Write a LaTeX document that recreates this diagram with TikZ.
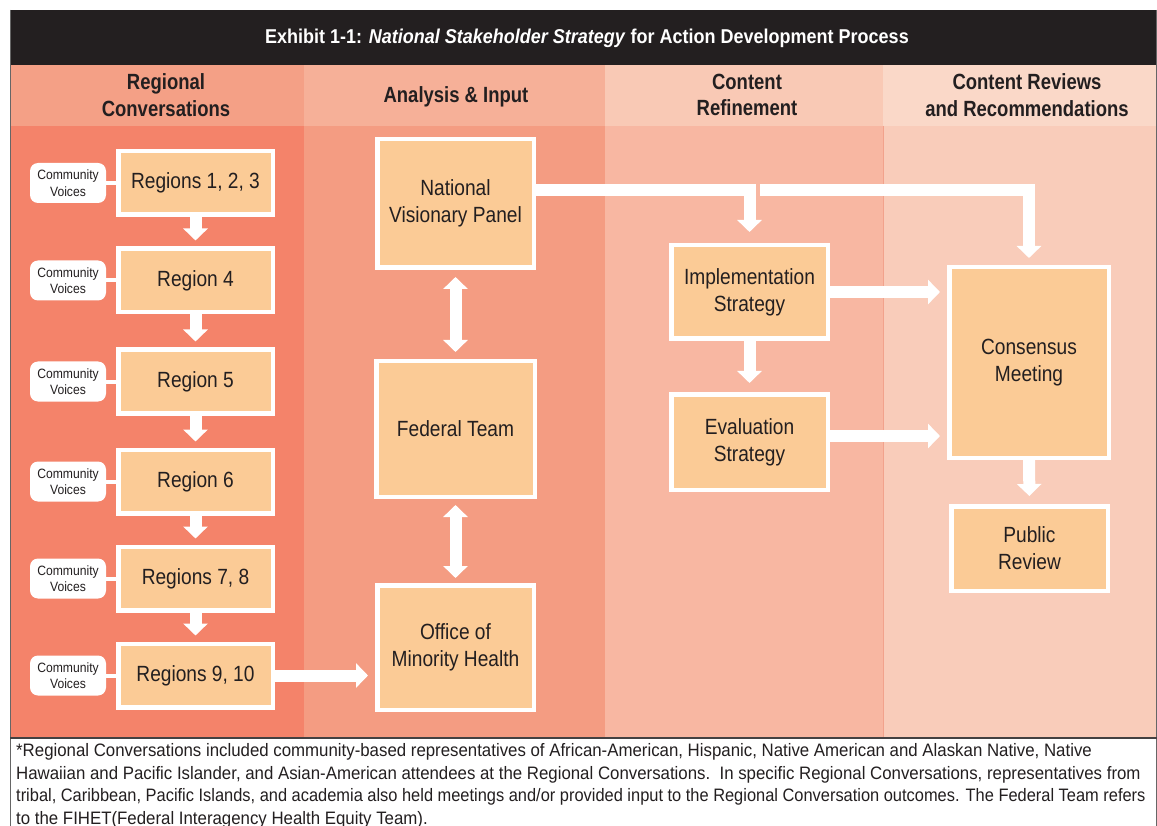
\documentclass[tikz,border=0pt]{standalone}
\usepackage{fontspec}
\setmainfont{Liberation Sans}[FakeStretch=0.82]
\newfontfamily\titlefont{Liberation Sans}[FakeStretch=0.9]
\newfontfamily\hdrfont{Liberation Sans}[FakeStretch=0.84]
\newfontfamily\boxfont{Liberation Sans}[FakeStretch=0.87]
\newfontfamily\cvfont{Liberation Sans}[FakeStretch=0.9]
\newfontfamily\footfont{Liberation Sans}[FakeStretch=0.935]
\newfontfamily\footfonttight{Liberation Sans}[FakeStretch=0.912]
\usetikzlibrary{arrows.meta}
\definecolor{titlebk}{HTML}{231F20}
\definecolor{txt}{HTML}{231F20}
\definecolor{hA}{HTML}{F4A086}
\definecolor{bA}{HTML}{F4836A}
\definecolor{hB}{HTML}{F6B098}
\definecolor{bB}{HTML}{F49C82}
\definecolor{hC}{HTML}{F9C9B5}
\definecolor{bC}{HTML}{F8B7A2}
\definecolor{hD}{HTML}{FAD8C8}
\definecolor{bD}{HTML}{F9CCBA}
\definecolor{boxfill}{HTML}{FBCB96}
\definecolor{sepline}{HTML}{F2A28C}
\tikzset{
  stagebox/.style={draw=white, line width=4.5pt, fill=boxfill, align=center, text=txt,
    inner sep=0pt, font=\boxfont\fontsize{22}{27}\selectfont},
  cvbox/.style={fill=white, rounded corners=8pt, minimum width=76pt, minimum height=40pt,
    align=center, text=txt, inner sep=0pt, font=\cvfont\fontsize{13.5}{16.5}\selectfont},
  hdr/.style={align=center, text=txt, font=\hdrfont\fontsize{22}{26.5}\selectfont\bfseries},
  warrow/.style={draw=white, line width=12pt, -{Triangle[length=12pt,width=24pt]}},
  dblarrow/.style={draw=white, line width=12pt, {Triangle[length=12pt,width=24pt]}-{Triangle[length=12pt,width=24pt]}},
  foot/.style={anchor=west, text=txt, inner sep=0pt, font=\footfont\fontsize{18}{22}\selectfont}
}
\begin{document}
\begin{tikzpicture}[x=1pt,y=-1pt]
\useasboundingbox (0,0) rectangle (1157,826);
\fill[white] (0,0) rectangle (1157,826);
% title bar
\fill[titlebk] (10,10) rectangle (1157,65);
% headers
\fill[hA] (10,65) rectangle (304,126);
\fill[hB] (304,65) rectangle (605,126);
\fill[hC] (605,65) rectangle (883,126);
\fill[hD] (883,65) rectangle (1157,126);
% bodies
\fill[bA] (10,126) rectangle (304,738);
\fill[bB] (304,126) rectangle (605,738);
\fill[bC] (605,126) rectangle (883,738);
\fill[bD] (883,126) rectangle (1157,738);
\draw[sepline, line width=1pt] (883,126) -- (883,738);
% frame
\draw[gray!80!black, line width=1pt] (10.5,10) -- (10.5,826);
\draw[gray!80!black, line width=1pt] (1156.5,10) -- (1156.5,826);
\draw[txt!85, line width=1.5pt] (10,738) -- (1157,738);

\node[text=white, font=\titlefont\fontsize{20}{24}\selectfont\bfseries] (title) at (587,38)
  {Exhibit 1-1: \textit{National Stakeholder Strategy} for Action Development Process};

\node[hdr] (h1) at (166,95) {Regional\\Conversations};
\node[hdr] (h2) at (456,97) {Analysis \& Input};
\node[hdr] (h3) at (747,95) {Content\\Refinement};
\node[hdr] (h4) at (1027,95) {Content Reviews\\and Recommendations};

% regions
\node[stagebox, minimum width=154.5pt, minimum height=63.5pt] (r1) at (195.5,183) {Regions 1, 2, 3};
\node[stagebox, minimum width=154.5pt, minimum height=63.5pt] (r2) at (195.5,280.5) {Region 4};
\node[stagebox, minimum width=154.5pt, minimum height=63.5pt] (r3) at (195.5,381.5) {Region 5};
\node[stagebox, minimum width=154.5pt, minimum height=63.5pt] (r4) at (195.5,481.5) {Region 6};
\node[stagebox, minimum width=154.5pt, minimum height=63.5pt] (r5) at (195.5,578.5) {Regions 7, 8};
\node[stagebox, minimum width=154.5pt, minimum height=63.5pt] (r6) at (195.5,675.5) {Regions 9, 10};

\foreach \i in {1,...,6} {
  \node[cvbox] (cv\i) at (68,0 |- r\i) {Community\\Voices};
  \draw[white, line width=4pt] (cv\i.east) -- (r\i.west);
}
\foreach \a/\b in {r1/r2,r2/r3,r3/r4,r4/r5,r5/r6} {
  \draw[warrow, shorten >=6pt] (\a.south) -- (\b.north);
}

% analysis column
\node[stagebox, minimum width=156.5pt, minimum height=128.5pt] (panel) at (455.5,203.5) {National\\Visionary Panel};
\node[stagebox, minimum width=158.5pt, minimum height=135.5pt] (fed) at (455.5,429) {Federal Team};
\node[stagebox, minimum width=156.5pt, minimum height=124.5pt] (omh) at (455.5,647.5) {Office of\\Minority Health};

\draw[dblarrow, shorten >=7pt, shorten <=7pt] (panel.south) -- (fed.north);
\draw[dblarrow, shorten >=5pt, shorten <=6pt] (fed.south) -- (omh.north);
\draw[warrow, shorten >=7pt] (r6.east) -- (r6.east -| omh.west);

% refinement column
\node[stagebox, minimum width=156.5pt, minimum height=93.5pt] (impl) at (749.5,292) {Implementation\\Strategy};
\node[stagebox, minimum width=156.5pt, minimum height=95.5pt] (eval) at (749.5,442) {Evaluation\\Strategy};

% review column
\node[stagebox, minimum width=159.5pt, minimum height=190.5pt] (cons) at (1029,362.5) {Consensus\\Meeting};
\node[stagebox, minimum width=156.5pt, minimum height=84.5pt] (pub) at (1029.5,548.5) {Public\\Review};

\coordinate (split) at (760,190);
\draw[warrow, shorten >=11pt] ([yshift=13.5pt]panel.east) -| (impl.north);
\draw[warrow, shorten >=7pt] (split) -| (cons.north);
\draw[warrow, shorten >=9pt] (impl.south) -- (eval.north);
\draw[warrow, shorten >=7pt] (impl.east) -- (impl.east -| cons.west);
\draw[warrow, shorten >=7pt] ([yshift=6pt]eval.east) -- ([yshift=6pt]eval.east -| cons.west);
\draw[warrow, shorten >=8pt] (cons.south) -- (pub.north);

% footnote
\node[foot] (f1) at (16,752) {*Regional Conversations included community-based representatives of African-American, Hispanic, Native American and Alaskan Native, Native};
\node[foot] (f2) at (16,774.5) {Hawaiian and Pacific Islander, and Asian-American attendees at the Regional Conversations.\ \ In specific Regional Conversations, representatives from};
\node[foot, font=\footfonttight\fontsize{18}{22}\selectfont] (f3) at (16,797) {tribal, Caribbean, Pacific Islands, and academia also held meetings and/or provided input to the Regional Conversation outcomes. The Federal Team refers};
\node[foot] (f4) at (16,819.5) {to the FIHET(Federal Interagency Health Equity Team).};
\end{tikzpicture}
\end{document}
